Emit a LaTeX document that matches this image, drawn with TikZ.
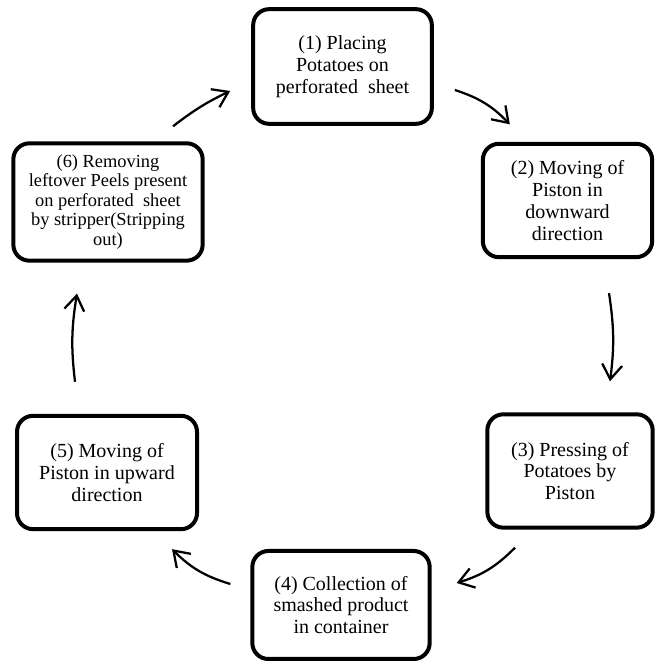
\documentclass[tikz,border=0pt]{standalone}
\usepackage{fontspec}
\setmainfont{Liberation Serif}
\usepackage{xcolor}
\usetikzlibrary{arrows.meta}
\usetikzlibrary{calc, positioning}

\tikzset{
  stepbox/.style={draw, line width=3pt, rounded corners=12pt, align=center,
    font=\fontsize{15}{16.3}\selectfont, inner sep=2pt},
  flow/.style={line width=1.7pt, -{Straight Barb[length=11pt,width=15pt,line width=1.7pt]}, bend left=14}
}

\begin{document}
\begin{tikzpicture}[x=0.75pt,y=0.75pt]
\useasboundingbox (0,0) rectangle (660,663);

% the six steps
\node[stepbox, minimum width=134pt, minimum height=86pt] (b1) at (342.5,596.5) {(1) Placing\\Potatoes on\\perforated\ \ sheet};
\node[stepbox, minimum width=127pt, minimum height=85pt] (b2) at (567.5,462.5) {(2) Moving of\\Piston in\\downward\\direction};
\node[stepbox, minimum width=124pt, minimum height=85pt] (b3) at (570,192) {(3) Pressing of\\Potatoes by\\Piston};
\node[stepbox, minimum width=133pt, minimum height=81pt] (b4) at (341,58) {(4) Collection of\\smashed product\\in container};
\node[stepbox, minimum width=135pt, minimum height=85pt] (b5) at (107,190.5) {(5) Moving of\\Piston in upward\\direction};
\node[stepbox, minimum width=142pt, minimum height=88pt, font=\fontsize{13.8}{14.6}\selectfont] (b6) at (108,461) {(6) Removing\\leftover Peels present\\on perforated\ \ sheet\\by stripper(Stripping\\out)};

% arrows between the steps
\draw[flow] ($(b1.east)+(21,-23.5)$) to ($(b2.north west)+(29,17.5)$);
\draw[flow, bend left=8] ($(b2.south)+(41.5,-34)$) to ($(b3.north)+(40,31)$);
\draw[flow] ($(b3.south)+(-55,-18)$) to ($(b4.east)+(25,22)$);
\draw[flow] ($(b4.west)+(-20,21)$) to ($(b5.south)+(65,-18)$);
\draw[flow, bend left=8] ($(b5.north)+(-32,32)$) to ($(b6.south)+(-31,-31)$);
\draw[flow, bend left=6] ($(b6.north)+(65,15)$) to ($(b1.west)+(-21,-24.5)$);

\end{tikzpicture}
\end{document}
